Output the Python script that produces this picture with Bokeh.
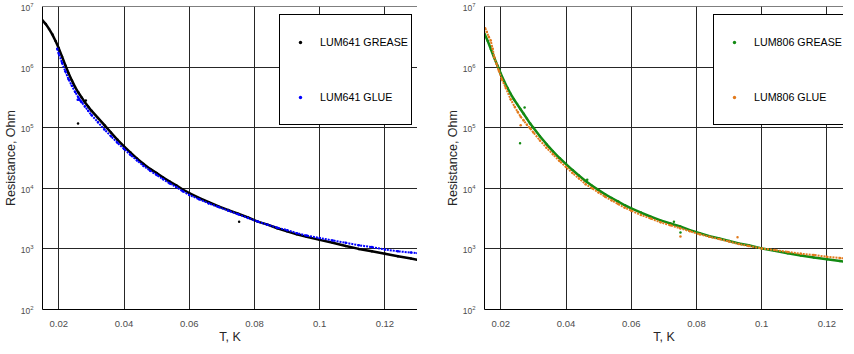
from bokeh.plotting import figure
from bokeh.layouts import row
from bokeh.models import (Range1d, FixedTicker, PrintfTickFormatter, Legend,
                          LegendItem, Span)
from bokeh.embed import file_html
from bokeh.resources import INLINE

# ---------------- data ----------------
x_ticks = [0.02, 0.04, 0.06, 0.08, 0.1, 0.12]
y_ticks = [1e2, 1e3, 1e4, 1e5, 1e6, 1e7]

# LUM641 GREASE (T in K, R in Ohm)
lum641_grease_t = [0.015, 0.016, 0.017, 0.018, 0.019, 0.020, 0.021, 0.022, 0.023, 0.024,
                   0.025, 0.026, 0.027, 0.028, 0.029, 0.030, 0.032, 0.034, 0.036, 0.038,
                   0.040, 0.042, 0.044, 0.046, 0.048, 0.050, 0.052, 0.054, 0.056, 0.058,
                   0.060, 0.063, 0.066, 0.069, 0.072, 0.075, 0.078, 0.081, 0.084, 0.087,
                   0.090, 0.093, 0.096, 0.100, 0.104, 0.108, 0.112, 0.116, 0.120, 0.124,
                   0.128, 0.130]
lum641_grease_r = [5.89e6, 5.13e6, 4.27e6, 3.47e6, 2.69e6, 2.04e6, 1.48e6, 1.07e6, 7.94e5, 6.03e5,
                   4.68e5, 3.80e5, 3.16e5, 2.63e5, 2.24e5, 1.91e5, 1.45e5, 1.10e5, 8.32e4, 6.31e4,
                   4.90e4, 3.89e4, 3.09e4, 2.51e4, 2.09e4, 1.78e4, 1.51e4, 1.29e4, 1.12e4, 9550,
                   8320, 6920, 5890, 5010, 4370, 3800, 3310, 2820, 2510, 2190,
                   1950, 1740, 1580, 1410, 1260, 1120, 1000, 912, 832, 759,
                   692, 661]
lum641_grease_out_t = [0.0259, 0.0283, 0.0753]
lum641_grease_out_r = [1.17e5, 2.8e5, 2800]

# LUM641 GLUE
lum641_glue_t = [0.0195, 0.020, 0.021, 0.022, 0.023, 0.024, 0.025, 0.026, 0.027, 0.028,
                 0.029, 0.030, 0.032, 0.034, 0.036, 0.038, 0.040, 0.042, 0.044, 0.046,
                 0.048, 0.050, 0.052, 0.054, 0.056, 0.058, 0.060, 0.063, 0.066, 0.069,
                 0.072, 0.075, 0.078, 0.081, 0.084, 0.087, 0.090, 0.093, 0.096, 0.100,
                 0.104, 0.108, 0.112, 0.116, 0.120, 0.124, 0.128, 0.130]
lum641_glue_r = [2.00e6, 1.66e6, 1.17e6, 8.51e5, 6.31e5, 4.90e5, 3.89e5, 3.16e5, 2.63e5, 2.24e5,
                 1.91e5, 1.62e5, 1.23e5, 9.33e4, 7.24e4, 5.62e4, 4.47e4, 3.55e4, 2.88e4, 2.34e4,
                 1.95e4, 1.66e4, 1.41e4, 1.20e4, 1.05e4, 8910, 7760, 6610, 5620, 4900,
                 4270, 3720, 3240, 2820, 2510, 2240, 2040, 1820, 1660, 1510,
                 1380, 1260, 1150, 1070, 977, 912, 871, 851]
lum641_glue_out_t = [0.0258, 0.0262, 0.0266]
lum641_glue_out_r = [2.9e5, 2.9e5, 2.8e5]

# LUM806 GREASE
lum806_grease_t = [0.015, 0.016, 0.017, 0.018, 0.019, 0.020, 0.021, 0.022, 0.023, 0.024,
                   0.025, 0.026, 0.027, 0.028, 0.029, 0.030, 0.032, 0.034, 0.036, 0.038,
                   0.040, 0.042, 0.044, 0.046, 0.048, 0.050, 0.052, 0.054, 0.056, 0.058,
                   0.060, 0.063, 0.066, 0.069, 0.072, 0.075, 0.078, 0.081, 0.084, 0.087,
                   0.090, 0.093, 0.096, 0.100, 0.104, 0.108, 0.112, 0.116, 0.120, 0.124,
                   0.128, 0.130]
lum806_grease_r = [3.55e6, 2.69e6, 1.95e6, 1.41e6, 1.05e6, 7.76e5, 5.89e5, 4.57e5, 3.63e5, 2.95e5,
                   2.45e5, 2.04e5, 1.70e5, 1.41e5, 1.17e5, 1.00e5, 7.24e4, 5.37e4, 4.07e4, 3.16e4,
                   2.51e4, 2.00e4, 1.62e4, 1.32e4, 1.10e4, 9330, 7940, 6920, 6030, 5250,
                   4680, 3980, 3390, 2950, 2630, 2340, 2040, 1820, 1620, 1480,
                   1350, 1230, 1150, 1020, 933, 851, 776, 724, 676, 631,
                   589, 562]
lum806_grease_out_t = [0.0259, 0.0273, 0.0465, 0.0731, 0.0751]
lum806_grease_out_r = [5.55e4, 2.15e5, 1.38e4, 2800, 1860]

# LUM806 GLUE
lum806_glue_t = [0.0152, 0.0157, 0.0163, 0.0169, 0.0175, 0.0180, 0.0187, 0.0194, 0.0203, 0.0215,
                 0.0230, 0.0243, 0.0252, 0.0261, 0.0270, 0.0280, 0.0290, 0.0300, 0.0320, 0.0340,
                 0.0360, 0.0380, 0.0400, 0.0420, 0.0440, 0.0460, 0.0480, 0.0500, 0.0520, 0.0540,
                 0.0560, 0.0580, 0.0600, 0.0630, 0.0660, 0.0690, 0.0720, 0.0750, 0.0780, 0.0810,
                 0.0840, 0.0870, 0.0900, 0.0930, 0.0960, 0.1000, 0.1040, 0.1080, 0.1120, 0.1160,
                 0.1200, 0.1240, 0.1280, 0.1300]
lum806_glue_r = [4.37e6, 3.80e6, 3.16e6, 2.75e6, 2.00e6, 1.45e6, 1.12e6, 8.71e5, 6.31e5, 4.57e5,
                 2.95e5, 2.19e5, 1.82e5, 1.51e5, 1.32e5, 1.12e5, 9.77e4, 8.32e4, 6.17e4, 4.68e4,
                 3.63e4, 2.82e4, 2.24e4, 1.78e4, 1.45e4, 1.17e4, 1.00e4, 8510, 7240, 6310,
                 5500, 4790, 4270, 3630, 3160, 2750, 2450, 2190, 1950, 1740,
                 1580, 1450, 1320, 1200, 1120, 1020, 955, 891, 832, 794,
                 741, 708, 676, 661]
lum806_glue_out_t = [0.0261, 0.0751, 0.0926]
lum806_glue_out_r = [1.1e5, 1600, 1550]

FONT = "Liberation Sans"


def make_fig(frame_w, border_left, x_end):
    p = figure(frame_width=frame_w, frame_height=303,
               x_range=Range1d(0.015, x_end), y_range=Range1d(1e2, 1e7),
               y_axis_type="log", output_backend="svg", toolbar_location=None,
               min_border_left=border_left, min_border_right=0,
               min_border_top=6, min_border_bottom=29,
               background_fill_color="white", border_fill_color="white")
    p.outline_line_color = None
    p.xaxis.ticker = FixedTicker(ticks=x_ticks)
    p.yaxis.ticker = FixedTicker(ticks=y_ticks)
    p.xaxis.formatter = PrintfTickFormatter(format="%g")
    p.xgrid.ticker = FixedTicker(ticks=x_ticks)
    p.ygrid.ticker = FixedTicker(ticks=y_ticks)
    for g in (p.xgrid, p.ygrid):
        g.grid_line_color = "#262626"
        g.grid_line_alpha = 1.0
        g.grid_line_width = 1
    for ax in (p.xaxis, p.yaxis):
        ax.axis_line_color = "black"
        ax.axis_line_width = 1
        ax.major_tick_line_color = None
        ax.minor_tick_line_color = None
        ax.major_label_text_font = FONT
        ax.major_label_text_color = "#4d4d4d"
        ax.axis_label_text_font = FONT
        ax.axis_label_text_font_style = "normal"
        ax.axis_label_text_color = "#262626"
        ax.axis_label_text_font_size = "12.5px"
    p.xaxis.major_label_text_font_size = "9.5px"
    p.yaxis.major_label_text_font_size = "8.5px"
    p.xaxis.major_label_standoff = 5
    p.yaxis.major_label_standoff = 3
    p.xaxis.axis_label_standoff = 0
    p.yaxis.axis_label_standoff = 0
    p.xaxis.axis_label = "T, K"
    p.yaxis.axis_label = "Resistance, Ohm"
    p.add_layout(Span(location=1e7, dimension="width", line_color="black", line_width=1))
    return p


def add_series(p, t, r, ot, orr, color, lw, dash):
    p.line(t, r, line_color=color, line_width=lw, line_dash=dash)
    p.scatter(ot, orr, marker="dot", size=10, color=color)
    return p.scatter(t, r, marker="dot", size=10, color=color)


def add_legend(p, items, x_off):
    legend = Legend(items=[LegendItem(label=lab, renderers=[rend]) for lab, rend in items],
                    location=(x_off, 184), orientation="vertical", padding=3, spacing=7,
                    margin=0, glyph_width=34, glyph_height=48, label_height=48,
                    label_standoff=3, label_text_font=FONT, label_text_font_size="10.7px",
                    label_text_color="black", border_line_color="black",
                    border_line_width=1, border_line_alpha=1.0,
                    background_fill_color="white", background_fill_alpha=1.0)
    p.add_layout(legend)


# Left panel
p1 = make_fig(375, 37, 0.13)
r_a = add_series(p1, lum641_grease_t, lum641_grease_r, lum641_grease_out_t, lum641_grease_out_r,
                 "black", 2.5, "solid")
r_b = add_series(p1, lum641_glue_t, lum641_glue_r, lum641_glue_out_t, lum641_glue_out_r,
                 "#0000ff", 2.0, "2 1")
add_legend(p1, [("LUM641 GREASE", r_a), ("LUM641 GLUE", r_b)], 237)

# Right panel
p2 = make_fig(359, 67, 0.1251)
r_c = add_series(p2, lum806_grease_t, lum806_grease_r, lum806_grease_out_t, lum806_grease_out_r,
                 "#138a13", 2.5, "solid")
r_d = add_series(p2, lum806_glue_t, lum806_glue_r, lum806_glue_out_t, lum806_glue_out_r,
                 "#e27a1c", 2.0, "2 1")
add_legend(p2, [("LUM806 GREASE", r_c), ("LUM806 GLUE", r_d)], 229)

layout = row(p1, p2)
open("out.html", "w").write(file_html(layout, INLINE))
